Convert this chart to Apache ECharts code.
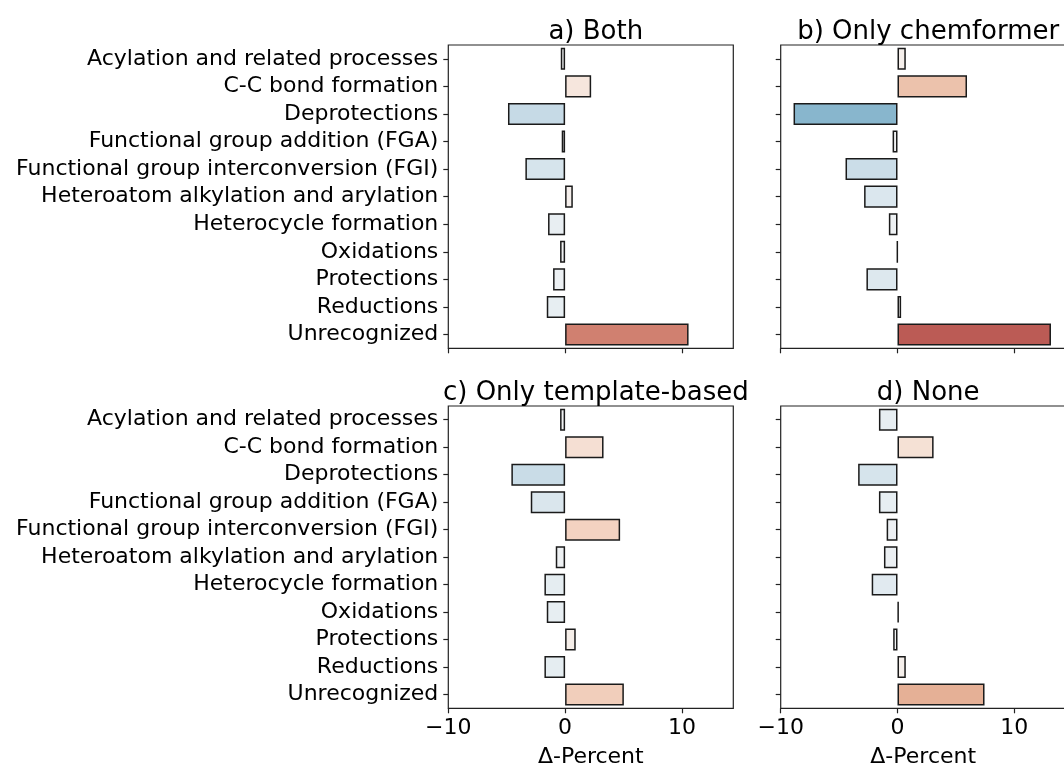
<!DOCTYPE html>
<html>
<head>
<meta charset="utf-8">
<script src="https://cdn.jsdelivr.net/npm/echarts@6/dist/echarts.min.js"></script>
<style>
html,body{margin:0;padding:0;background:#fff;}
#chart{width:1064px;height:764px;}
</style>
</head>
<body>
<div id="chart"></div>
<script>
const categories = [
  'Acylation and related processes',
  'C-C bond formation',
  'Deprotections',
  'Functional group addition (FGA)',
  'Functional group interconversion (FGI)',
  'Heteroatom alkylation and arylation',
  'Heterocycle formation',
  'Oxidations',
  'Protections',
  'Reductions',
  'Unrecognized'
];
const valuesBoth        = [-0.37, 2.23, -4.89, -0.29, -3.40, 0.66, -1.46, -0.43, -1.03, -1.57, 10.57];
const valuesChemformer  = [0.71, 5.95, -8.90, -0.42, -4.45, -2.86, -0.74, -0.03, -2.66, 0.31, 13.14];
const valuesTemplate    = [-0.43, 3.29, -4.60, -2.94, 4.71, -0.80, -1.77, -1.57, 0.91, -1.77, 5.03];
const valuesNone        = [-1.59, 3.09, -3.37, -1.59, -0.93, -1.16, -2.21, 0.11, -0.37, 0.71, 7.45];
const panelTitles = ['a) Both', 'b) Only chemformer', 'c) Only template-based', 'd) None'];
const xTicks = [-10, 0, 10];
const xAxisName = 'Δ-Percent';

// diverging colour scale (style only)
const colorStops = [
  [-9, [134,181,204]], [-4.9, [198,218,230]], [-3.4, [214,228,236]], [-1.5, [232,238,242]],
  [0, [244,244,244]], [0.7, [245,239,235]], [2.2, [246,230,221]], [3.2, [245,224,212]],
  [4.7, [243,210,193]], [6, [236,193,171]], [7.45, [229,176,150]], [10.57, [208,128,112]],
  [13.14, [187,91,85]]
];
function colorFor(v) {
  if (v <= colorStops[0][0]) return 'rgb(' + colorStops[0][1].join(',') + ')';
  for (let i = 1; i < colorStops.length; i++) {
    if (v <= colorStops[i][0]) {
      const [v0, c0] = colorStops[i-1], [v1, c1] = colorStops[i];
      const t = (v - v0) / (v1 - v0);
      return 'rgb(' + c0.map((c, k) => Math.round(c + (c1[k]-c) * t)).join(',') + ')';
    }
  }
  return 'rgb(' + colorStops[colorStops.length-1][1].join(',') + ')';
}

const allValues = [valuesBoth, valuesChemformer, valuesTemplate, valuesNone];
const font = 'DejaVu Sans';
const gridPos = [
  {left: 448.3, top: 45, width: 285, height: 303.3},
  {left: 780.7, top: 45, width: 285, height: 303.3},
  {left: 448.3, top: 406, width: 285, height: 302.3},
  {left: 780.7, top: 406, width: 285, height: 302.3}
];

const option = {
  animation: false,
  backgroundColor: '#fff',
  textStyle: {fontFamily: font},
  title: panelTitles.map((t, i) => ({
    text: t,
    left: gridPos[i].left + gridPos[i].width / 2,
    top: gridPos[i].top - 31,
    textAlign: 'center',
    textStyle: {fontFamily: font, fontSize: 26, fontWeight: 'normal', color: '#000'}
  })),
  grid: gridPos.map(g => Object.assign({show: true, borderColor: '#222', borderWidth: 1.2, backgroundColor: 'transparent', containLabel: false, outerBoundsMode: 'none'}, g)),
  xAxis: gridPos.map((g, i) => ({
    type: 'value',
    gridIndex: i,
    position: 'bottom',
    min: -10,
    max: 14.4,
    interval: 10,
    name: i >= 2 ? xAxisName : '',
    nameLocation: 'middle',
    nameGap: 38,
    nameTextStyle: {fontFamily: font, fontSize: 22, color: '#000'},
    axisLine: {show: false, onZero: false},
    splitLine: {show: false},
    axisTick: {show: true, length: 5, lineStyle: {color: '#222', width: 1.2}, customValues: xTicks},
    axisLabel: {
      show: i >= 2,
      fontFamily: font, fontSize: 22, color: '#000', margin: 9,
      customValues: xTicks,
      formatter: v => (v < 0 ? '\u2212' + Math.abs(v) : String(v))
    }
  })),
  yAxis: gridPos.map((g, i) => ({
    type: 'category',
    gridIndex: i,
    position: 'left',
    data: categories,
    inverse: true,
    axisLine: {show: false, onZero: false},
    splitLine: {show: false},
    axisTick: {show: true, interval: 0, alignWithLabel: true, length: 5, lineStyle: {color: '#222', width: 1.2}},
    axisLabel: {
      show: i % 2 === 0,
      interval: 0,
      fontFamily: font, fontSize: 22, color: '#000', margin: 10
    }
  })),
  series: allValues.map((vals, i) => ({
    type: 'bar',
    xAxisIndex: i,
    yAxisIndex: i,
    barWidth: '80%',
    data: vals.map(v => ({value: v, itemStyle: {color: colorFor(v)}})),
    itemStyle: {borderColor: '#1a1a1a', borderWidth: 1.5}
  }))
};

const chart = echarts.init(document.getElementById('chart'), null, {renderer: 'canvas'});
chart.setOption(option);
</script>
</body>
</html>
